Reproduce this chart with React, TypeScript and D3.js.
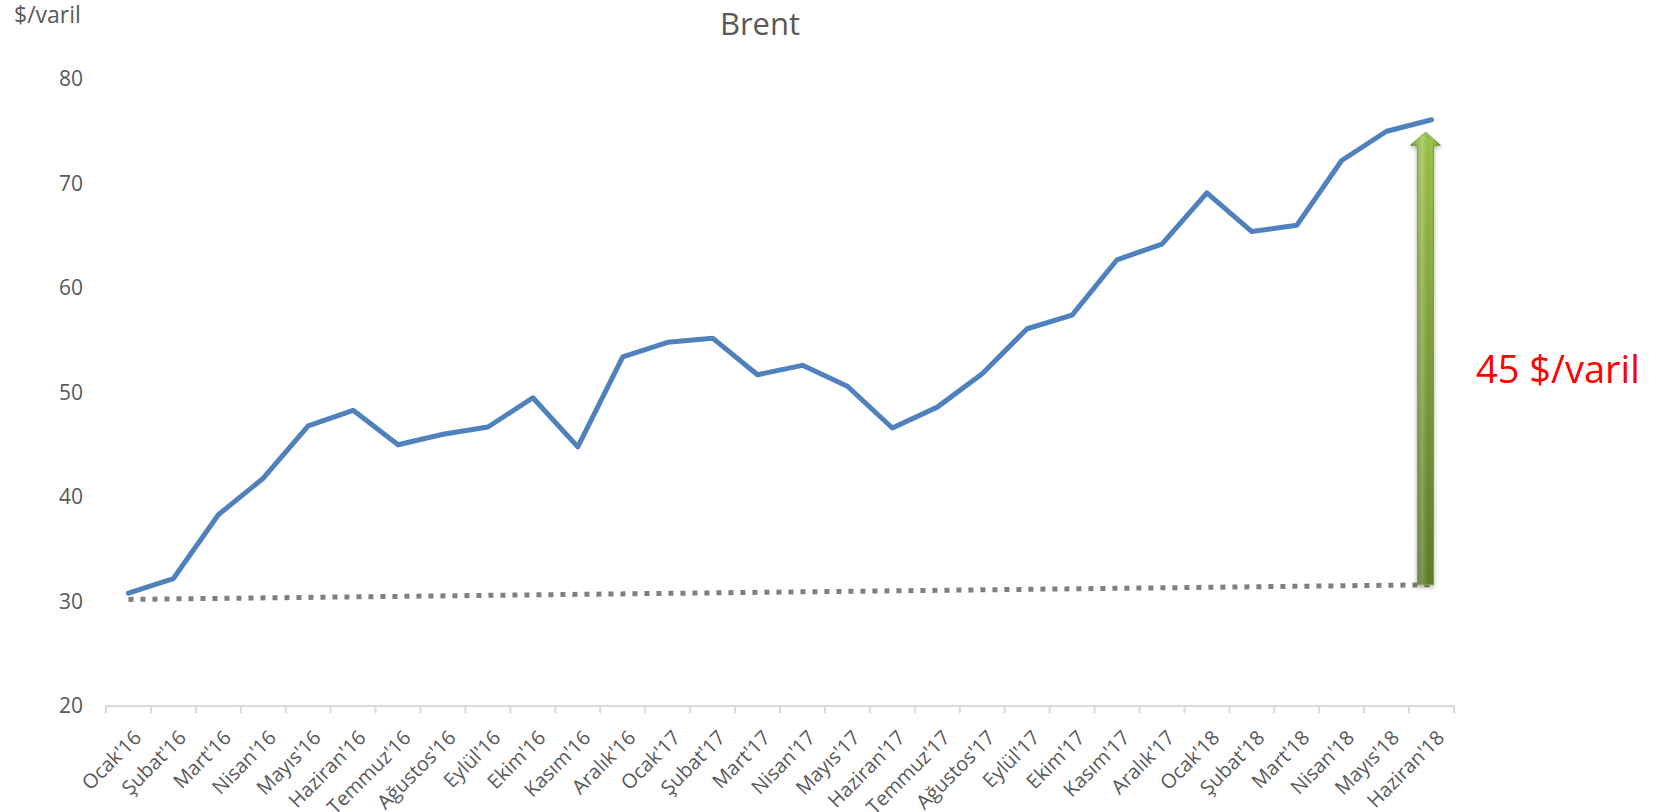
import React from 'react'
import * as d3 from 'd3'

const months = [
  "Ocak'16", "Şubat'16", "Mart'16", "Nisan'16", "Mayıs'16", "Haziran'16",
  "Temmuz'16", "Ağustos'16", "Eylül'16", "Ekim'16", "Kasım'16", "Aralık'16",
  "Ocak'17", "Şubat'17", "Mart'17", "Nisan'17", "Mayıs'17", "Haziran'17",
  "Temmuz'17", "Ağustos'17", "Eylül'17", "Ekim'17", "Kasım'17", "Aralık'17",
  "Ocak'18", "Şubat'18", "Mart'18", "Nisan'18", "Mayıs'18", "Haziran'18"
]

const brent = [
  30.8, 32.2, 38.3, 41.8, 46.8, 48.3,
  45.0, 46.0, 46.7, 49.5, 44.8, 53.4,
  54.8, 55.2, 51.7, 52.6, 50.6, 46.6,
  48.6, 51.8, 56.1, 57.4, 62.7, 64.2,
  69.1, 65.4, 66.0, 72.2, 75.0, 76.1
]

// dotted reference line: first and last month only
const baseLine = [
  { month: "Ocak'16", value: 30.2 },
  { month: "Haziran'18", value: 31.6 }
]

// arrow from baseline end up to the latest price
const arrowFrom = 31.6
const arrowTo = 74.9
const arrowLabel = '45 $/varil'

const yTicks = [20, 30, 40, 50, 60, 70, 80]

const W = 1657
const H = 812
const FONT = '"Open Sans", "Noto Sans", sans-serif'
const GREY = '#595959'

export default function App() {
  const x = d3.scaleBand().domain(months).range([106, 1454]).padding(0)
  const y = d3.scaleLinear().domain([20, 80]).range([706, 79])
  const cx = (m: string) => (x(m) as number) + x.bandwidth() / 2

  const line = d3.line<number>()
    .x((d, i) => cx(months[i]))
    .y(d => y(d))

  const trend = d3.line<{ month: string; value: number }>()
    .x(d => cx(d.month))
    .y(d => y(d.value))

  // arrow geometry
  const ax = cx(months[months.length - 1]) - 6
  const yTop = y(arrowTo)
  const yBot = y(arrowFrom)
  const shaftHalf = 8
  const headHalf = 15
  const headH = 13
  const arrowPath = [
    `M${ax - shaftHalf},${yBot}`,
    `L${ax - shaftHalf},${yTop + headH}`,
    `L${ax - headHalf},${yTop + headH}`,
    `L${ax},${yTop}`,
    `L${ax + headHalf},${yTop + headH}`,
    `L${ax + shaftHalf},${yTop + headH}`,
    `L${ax + shaftHalf},${yBot}`,
    'Z'
  ].join(' ')

  const ticks = d3.range(months.length + 1).map(i => 106 + i * x.bandwidth())

  return (
    <svg width={W} height={H} style={{ position: 'absolute', left: 0, top: 0, background: '#fff' }}>
      <defs>
        <linearGradient id="arrowV" x1="0" y1="0" x2="0" y2="1">
          <stop offset="0%" stopColor="#9cc64a" />
          <stop offset="100%" stopColor="#5f7d28" />
        </linearGradient>
        <linearGradient id="arrowH" x1="0" y1="0" x2="1" y2="0">
          <stop offset="0%" stopColor="#000" stopOpacity="0.25" />
          <stop offset="40%" stopColor="#fff" stopOpacity="0.2" />
          <stop offset="70%" stopColor="#000" stopOpacity="0" />
          <stop offset="100%" stopColor="#000" stopOpacity="0.3" />
        </linearGradient>
        <filter id="shadow" x="-50%" y="-5%" width="200%" height="110%">
          <feGaussianBlur in="SourceAlpha" stdDeviation="2" />
          <feOffset dx="0" dy="2" result="b" />
          <feComponentTransfer><feFuncA type="linear" slope="0.35" /></feComponentTransfer>
          <feMerge><feMergeNode /><feMergeNode in="SourceGraphic" /></feMerge>
        </filter>
      </defs>

      <text x={14} y={23} fontFamily={FONT} fontSize={23} fill={GREY}>$/varil</text>
      <text x={760} y={35} textAnchor="middle" fontFamily={FONT} fontSize={31} fill={GREY}>Brent</text>

      {/* y axis labels */}
      {yTicks.map(t => (
        <text key={t} x={83} y={y(t)} dy="0.35em" textAnchor="end" fontFamily={FONT} fontSize={21} fill={GREY}>{t}</text>
      ))}

      {/* x axis */}
      <line x1={106} x2={1454} y1={y(20)} y2={y(20)} stroke="#d9d9d9" strokeWidth={2} />
      {ticks.map((t, i) => (
        <line key={i} x1={t} x2={t} y1={y(20)} y2={y(20) + 7} stroke="#d9d9d9" strokeWidth={2} />
      ))}
      {months.map(m => (
        <text key={m} transform={`translate(${cx(m) + 14},${y(20) + 33}) rotate(-45)`}
          textAnchor="end" fontFamily={FONT} fontSize={20} fill={GREY}>{m}</text>
      ))}

      {/* dotted baseline */}
      <path d={trend(baseLine) as string} fill="none" stroke="#7f7f7f" strokeWidth={5} strokeDasharray="5 7" />

      {/* brent line */}
      <path d={line(brent) as string} fill="none" stroke="#4f81bd" strokeWidth={5} strokeLinejoin="round" strokeLinecap="round" />

      {/* arrow */}
      <g filter="url(#shadow)">
        <path d={arrowPath} fill="url(#arrowV)" stroke="#7da83a" strokeWidth={1} />
        <path d={arrowPath} fill="url(#arrowH)" />
      </g>

      <text x={1476} y={383} fontFamily={FONT} fontSize={38} fill="#ff0000">{arrowLabel}</text>
    </svg>
  )
}
